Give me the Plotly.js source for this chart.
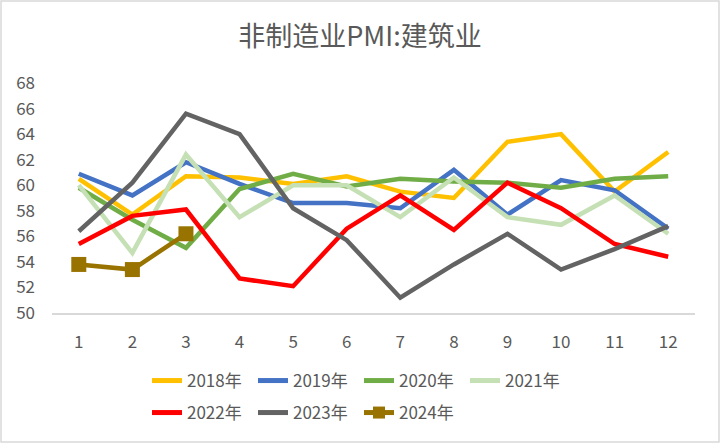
<!DOCTYPE html>
<html>
<head>
<meta charset="utf-8">
<script src="https://cdn.plot.ly/plotly-3.0.1.min.js"></script>
<style>
html,body{margin:0;padding:0;background:#fff;}
#chart{width:720px;height:443px;}
</style>
</head>
<body>
<div id="chart"></div>
<script>
const months = [1,2,3,4,5,6,7,8,9,10,11,12];
const tickLabels = ["1","2","3","4","5","6","7","8","9","10","11","12"];
const y2018 = [60.5,57.7,60.7,60.6,60.1,60.7,59.5,59.0,63.4,64.0,59.5,62.6];
const y2019 = [60.9,59.2,61.8,60.1,58.6,58.6,58.2,61.2,57.7,60.4,59.6,56.6];
const y2020 = [59.8,57.3,55.1,59.7,60.9,59.9,60.5,60.3,60.2,59.8,60.5,60.7];
const y2021 = [60.0,54.7,62.4,57.5,60.0,60.0,57.5,60.6,57.5,56.9,59.2,56.2];
const y2022 = [55.4,57.6,58.1,52.7,52.1,56.6,59.2,56.5,60.2,58.2,55.4,54.4];
const y2023 = [56.4,60.2,65.6,64.0,58.2,55.7,51.2,53.8,56.2,53.4,55.0,56.8];
const y2024 = [53.8,53.4,56.2];
const seriesNames = ["2018年","2019年","2020年","2021年","2022年","2023年","2024年"];
const colors = ["#FFC000","#4472C4","#70AD47","#C5E0B4","#FF0000","#636363","#997300"];

const W = 720, H = 443;
const M = {l:52, r:25, t:83, b:130};
const font = "'Noto Sans CJK SC', 'Noto Sans', sans-serif";
const txt = "#595959";

const allY = [y2018,y2019,y2020,y2021,y2022,y2023,y2024];
const traces = allY.map((ys, i) => {
  const t = {
    x: months.slice(0, ys.length),
    y: ys,
    name: seriesNames[i],
    type: 'scatter',
    mode: i === 6 ? 'lines+markers' : 'lines',
    line: {color: colors[i], width: 4.5},
    legend: i < 4 ? 'legend' : 'legend2'
  };
  if (i === 6) t.marker = {symbol: 'square', size: 15, color: colors[i]};
  return t;
});

const pw = W - M.l - M.r, ph = H - M.t - M.b;
const px2x = p => (p - M.l) / pw;
const py2y = p => (H - M.b - p) / ph;

const legendCommon = {
  orientation: 'h',
  xref: 'container', yref: 'container',
  xanchor: 'left', yanchor: 'middle',
  font: {family: font, size: 17, color: txt},
  bgcolor: 'rgba(0,0,0,0)',
  entrywidth: 61,
  itemwidth: 30,
  itemsizing: 'constant',
  tracegroupgap: 0
};

const layout = {
  width: W, height: H,
  margin: M,
  paper_bgcolor: '#fff',
  plot_bgcolor: '#fff',
  title: {
    text: '非制造业PMI:建筑业',
    font: {family: font, size: 27, color: txt},
    x: 0.5, xref: 'container', xanchor: 'center',
    y: 1 - 37/H, yref: 'container', yanchor: 'middle'
  },
  xaxis: {
    range: [0.5, 12.5],
    tickvals: months,
    ticktext: tickLabels,
    showgrid: false,
    zeroline: false,
    showline: true,
    linecolor: '#D9D9D9',
    linewidth: 1.5,
    ticks: '',
    ticklabelstandoff: 13,
    tickfont: {family: font, size: 17, color: txt},
    fixedrange: true
  },
  yaxis: {
    range: [50, 68],
    tickvals: [50,52,54,56,58,60,62,64,66,68],
    showgrid: false,
    zeroline: false,
    showline: false,
    ticks: '',
    ticklabelstandoff: 16,
    tickfont: {family: font, size: 17, color: txt},
    fixedrange: true
  },
  legend: Object.assign({}, legendCommon, {x: 147/W, y: 1 - 381/H}),
  legend2: Object.assign({}, legendCommon, {x: 147/W, y: 1 - 413/H}),
  shapes: [{
    type: 'rect', xref: 'paper', yref: 'paper',
    x0: px2x(1), x1: px2x(719), y0: py2y(442), y1: py2y(1),
    line: {color: '#D9D9D9', width: 1.5},
    fillcolor: 'rgba(0,0,0,0)', layer: 'below'
  }],
  showlegend: true
};

Plotly.newPlot('chart', traces, layout, {displayModeBar: false, staticPlot: true});
</script>
</body>
</html>
